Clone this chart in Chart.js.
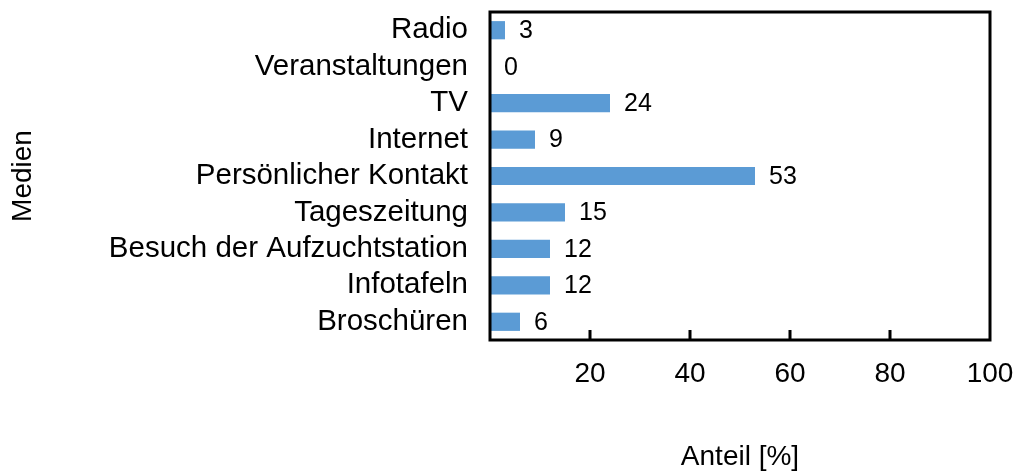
<!DOCTYPE html>
<html>
<head>
<meta charset="utf-8">
<script src="https://cdn.jsdelivr.net/npm/chart.js@4/dist/chart.umd.min.js"></script>
<style>
  html, body { margin: 0; padding: 0; background: #fff; }
  canvas { display: block; }
</style>
</head>
<body>
<canvas id="c" width="1018" height="475"></canvas>
<script>
const categories = ["Radio", "Veranstaltungen", "TV", "Internet", "Persönlicher Kontakt", "Tageszeitung", "Besuch der Aufzuchtstation", "Infotafeln", "Broschüren"];
const shares = [3, 0, 24, 9, 53, 15, 12, 12, 6];
const xTicks = [0, 20, 40, 60, 80, 100];
const xTitle = "Anteil [%]";
const yTitle = "Medien";

const FONT = 'Arial, "Liberation Sans", sans-serif';

function zeroPadding(s) {
  s.paddingTop = 0; s.paddingBottom = 0; s.paddingLeft = 0; s.paddingRight = 0;
}

const boxPlugin = {
  id: 'boxPlugin',
  afterDatasetsDraw(chart) {
    const {ctx, chartArea: a, scales: {x}} = chart;
    ctx.save();
    ctx.strokeStyle = '#000';
    ctx.lineWidth = 3;
    ctx.strokeRect(a.left, a.top, a.right - a.left, a.bottom - a.top);
    ctx.beginPath();
    xTicks.forEach(v => {
      if (v === xTicks[0] || v === xTicks[xTicks.length - 1]) return;
      const px = x.getPixelForValue(v);
      ctx.moveTo(px, a.bottom);
      ctx.lineTo(px, a.bottom - 10);
    });
    ctx.stroke();
    ctx.restore();
  }
};

const labelPlugin = {
  id: 'labelPlugin',
  afterDatasetsDraw(chart) {
    const {ctx} = chart;
    const meta = chart.getDatasetMeta(0);
    ctx.save();
    ctx.font = '25px ' + FONT;
    ctx.fillStyle = '#000';
    ctx.textAlign = 'left';
    ctx.textBaseline = 'middle';
    meta.data.forEach((bar, i) => {
      ctx.fillText(String(shares[i]), bar.x + 14, bar.y + 1);
    });
    ctx.restore();
  }
};

new Chart(document.getElementById('c'), {
  type: 'bar',
  data: {
    labels: categories,
    datasets: [{
      data: shares,
      backgroundColor: '#5b9bd5',
      borderWidth: 0,
      barPercentage: 0.5,
      categoryPercentage: 1.0
    }]
  },
  options: {
    indexAxis: 'y',
    responsive: false,
    animation: false,
    devicePixelRatio: 1,
    layout: { padding: { top: 12, right: 28, left: 0, bottom: 0 } },
    plugins: { legend: { display: false }, tooltip: { enabled: false } },
    scales: {
      x: {
        min: 0, max: 100,
        grid: { display: false, drawTicks: false },
        border: { display: false },
        ticks: {
          stepSize: 20,
          padding: 17,
          color: '#000',
          font: { family: FONT, size: 28 },
          maxRotation: 0,
          callback: (v) => v === 0 ? '' : String(v)
        },
        title: {
          display: true, text: xTitle, color: '#000',
          font: { family: FONT, size: 28 },
          padding: { top: 0, bottom: 1 }
        },
        afterFit(s) { s.height = 135; zeroPadding(s); }
      },
      y: {
        grid: { display: false, drawTicks: false },
        border: { display: false },
        ticks: {
          padding: 22,
          color: '#000',
          font: { family: FONT, size: 29.5 },
          autoSkip: false
        },
        title: {
          display: true, text: yTitle, color: '#000',
          font: { family: FONT, size: 28 },
          padding: { top: 6, bottom: 0 }
        },
        afterFit(s) { s.width = 490; zeroPadding(s); }
      }
    }
  },
  plugins: [boxPlugin, labelPlugin]
});
</script>
</body>
</html>
